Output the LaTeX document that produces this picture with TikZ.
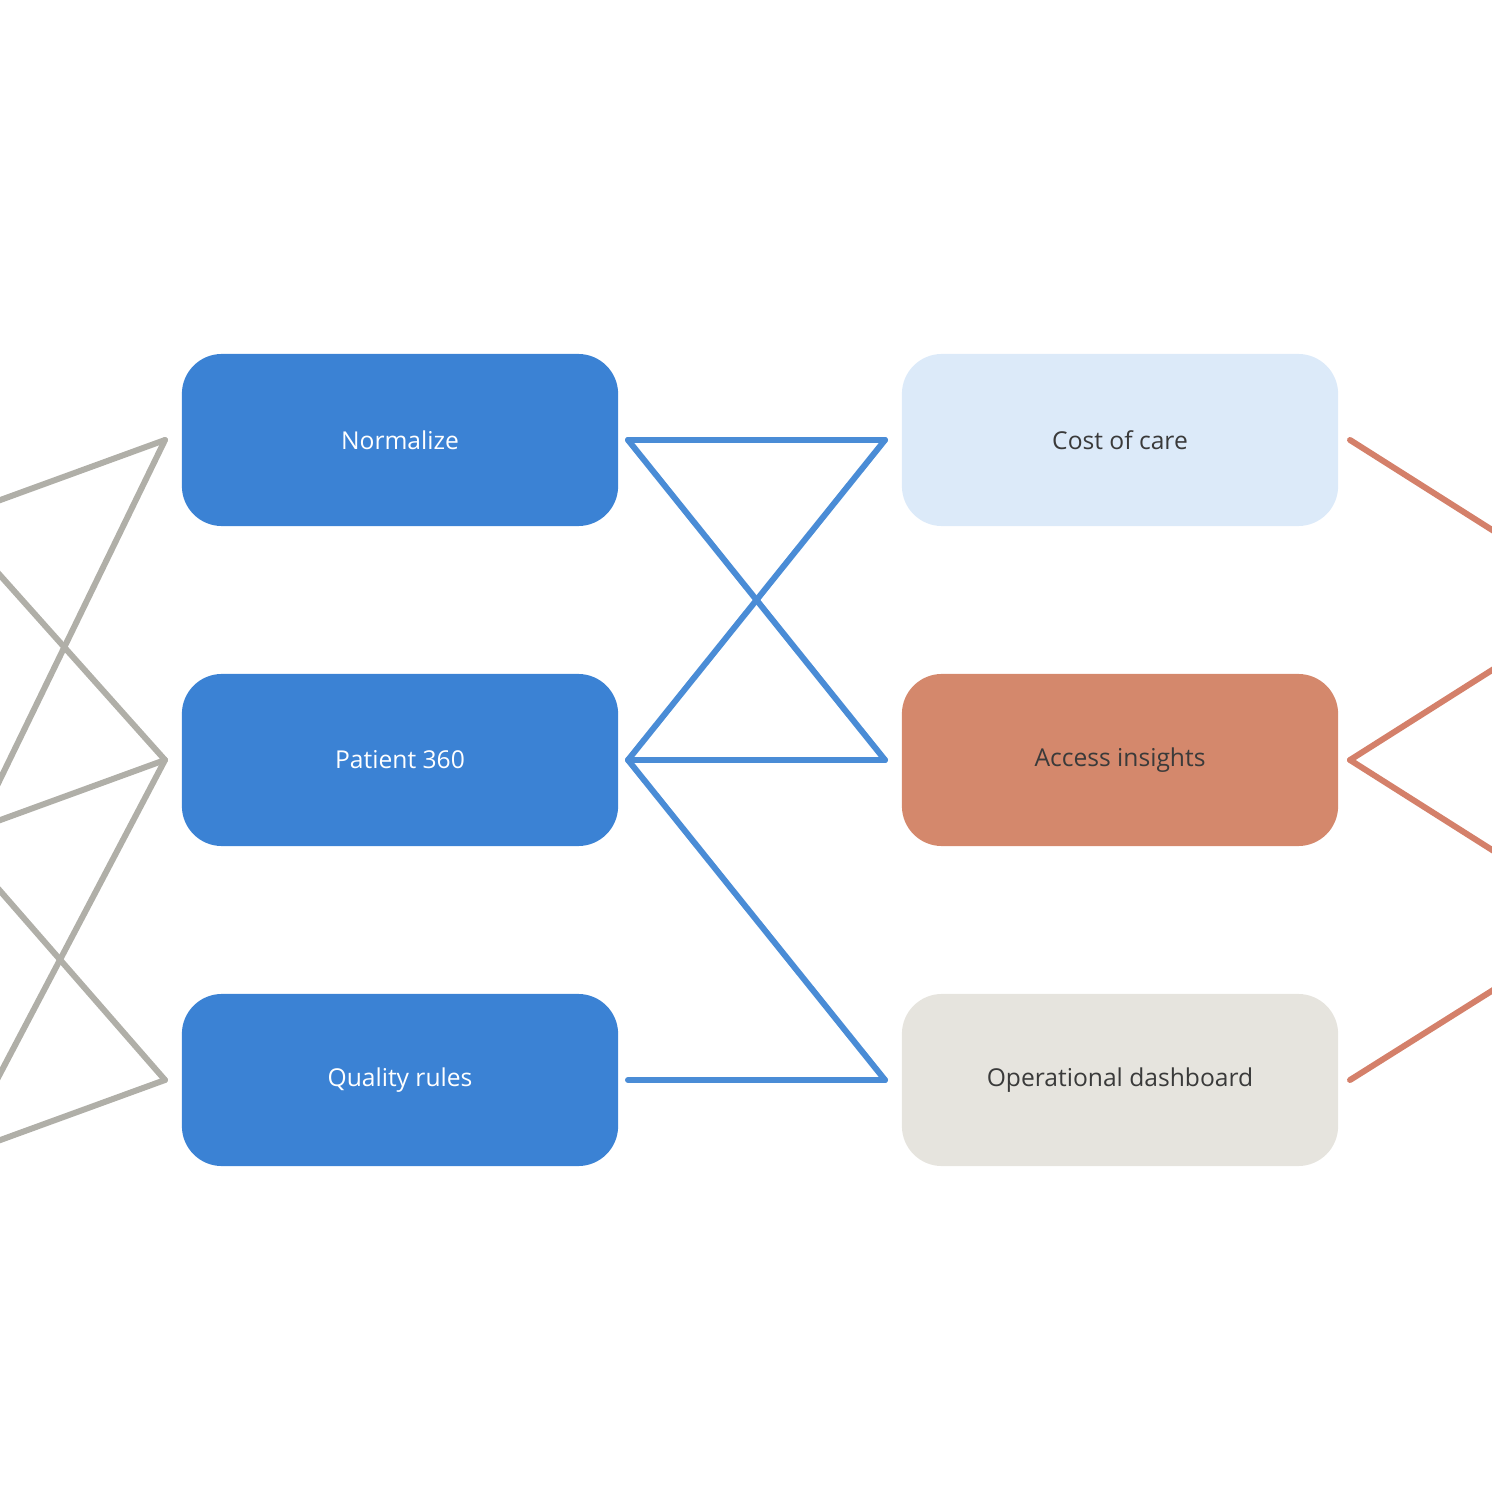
\documentclass[tikz,border=0pt]{standalone}
\usepackage{fontspec}
\setmainfont{Open Sans}
\definecolor{boxBlue}{HTML}{3B82D4}
\definecolor{boxPale}{HTML}{DCEAF9}
\definecolor{boxRust}{HTML}{D4886C}
\definecolor{boxSand}{HTML}{E6E4DE}
\definecolor{wireGray}{HTML}{B0AFA8}
\definecolor{wireBlue}{HTML}{4A8CD6}
\definecolor{wireRust}{HTML}{D4806A}
\definecolor{inkDark}{HTML}{3A3A3A}
\begin{document}
\begin{tikzpicture}
[x=0.01cm,y=-0.01cm,
  boxDecorate/.style={shape=rectangle,rounded corners=0.4cm,minimum width=4.36cm,
    minimum height=1.72cm,inner sep=0pt,font=\fontsize{7pt}{8pt}\selectfont},
  wireDecorate/.style={-,line width=1.7pt,line cap=round,line join=round}]
\useasboundingbox (0,0) rectangle (1492,1492);
\clip (0,0) rectangle (1492,1492);
%% boxes
\foreach \nodename/\x/\y/\fill/\ink/\label in {
  norm/400/440/boxBlue/white/Normalize,
  p360/400/760/boxBlue/white/Patient 360,
  qual/400/1080/boxBlue/white/Quality rules,
  cost/1120/440/boxPale/inkDark/Cost of care,
  access/1120/760/boxRust/inkDark/Access insights,
  ops/1120/1080/boxSand/inkDark/Operational dashboard}
{
  \node (\nodename) at (\x,\y) [boxDecorate,fill=\fill,text=\ink] {\label};
}
%% ports
\foreach \nodename/\x/\y in {
  lA/165/440, lB/165/760, lC/165/1080,
  mA/628/440, mB/628/760, mC/628/1080,
  nA/885/440, nB/885/760, nC/885/1080,
  rA/1350/440, rB/1350/760, rC/1350/1080,
  g1/-60/522, g2/-60/508, g3/-60/903, g4/-60/842,
  g5/-60/822, g6/-60/1188, g7/-60/1162,
  o1/1560/573, o2/1560/627, o3/1560/893, o4/1560/948}
{
  \coordinate (\nodename) at (\x,\y);
}
%% edges
\foreach \startnode/\endnode in {
  g1/lA, g2/lB, g3/lA, g4/lB, g5/lC, g6/lB, g7/lC}
{
  \draw[wireDecorate,wireGray] (\startnode) -- (\endnode);
}
\foreach \startnode/\endnode in {
  mA/nA, mA/nB, mB/nA, mB/nB, mB/nC, mC/nC}
{
  \draw[wireDecorate,wireBlue] (\startnode) -- (\endnode);
}
\foreach \startnode/\endnode in {
  rA/o1, rB/o2, rB/o3, rC/o4}
{
  \draw[wireDecorate,wireRust] (\startnode) -- (\endnode);
}
\end{tikzpicture}
\end{document}
